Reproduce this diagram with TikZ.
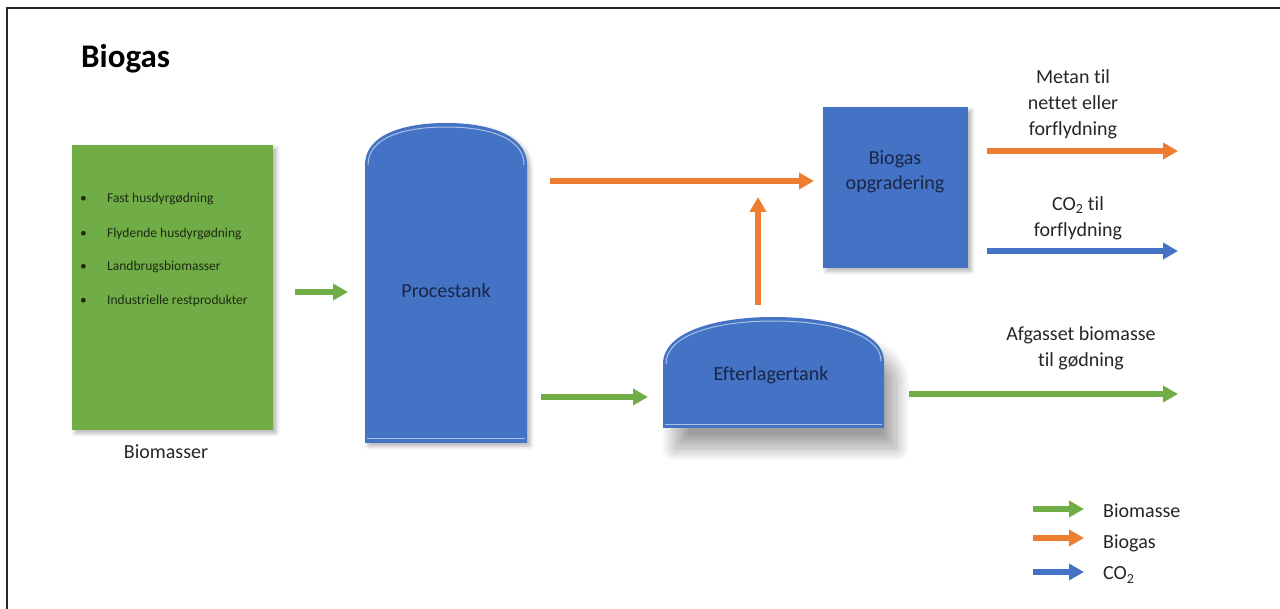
\documentclass[tikz,border=0pt]{standalone}
\usepackage{fontspec}
\setmainfont{Carlito}[Ligatures=NoCommon]
\usetikzlibrary{arrows.meta,shadows.blur}
\definecolor{cgreen}{HTML}{70AD47}
\definecolor{corange}{HTML}{ED7D31}
\definecolor{cblue}{HTML}{4472C4}
\definecolor{cnavy}{HTML}{1A2646}
\definecolor{cdark}{HTML}{1E2A12}
\definecolor{ctxt}{HTML}{262626}
\begin{document}
\begin{tikzpicture}[x=1pt,y=-1pt,
  flow/.style={line width=5.5pt,-{Triangle[length=15pt,width=16pt]}},
  gflow/.style={flow,draw=cgreen},
  oflow/.style={flow,draw=corange},
  bflow/.style={flow,draw=cblue},
  lbl/.style={text=ctxt,font=\fontsize{20}{26}\selectfont,align=center,inner sep=0pt},
  intxt/.style={text=cnavy,font=\fontsize{20}{25}\selectfont,align=center,inner sep=0pt},
  blt/.style={text=cdark,font=\fontsize{13.5}{16}\selectfont,anchor=west,inner sep=0pt},
  tankedge/.style={draw=cblue!45!white,line width=1pt},
  softshadow/.style={blur shadow={shadow xshift=3pt,shadow yshift=-3pt,shadow blur radius=4pt,shadow opacity=30}}
]
\useasboundingbox (0,0) rectangle (1280,609);
\draw[line width=2pt,draw=black!85] (7,609) -- (7,8) -- (1280,8);

\node[anchor=base west,inner sep=0pt,font=\fontsize{33}{36}\selectfont\bfseries] (title) at (81,68) {Biogas};

% Biomasser box
\node[fill=cgreen,minimum width=201pt,minimum height=285pt,anchor=north west,inner sep=0pt,softshadow] (bio) at (72,145) {};
\node[blt] (b1) at (80,199) {•};
\node[blt] (t1) at (107,199) {Fast husdyrgødning};
\node[blt] (b2) at (80,234) {•};
\node[blt] (t2) at (107,234) {Flydende husdyrgødning};
\node[blt] (b3) at (80,267) {•};
\node[blt] (t3) at (107,267) {Landbrugsbiomasser};
\node[blt] (b4) at (80,301) {•};
\node[blt] (t4) at (107,301) {Industrielle restprodukter};
\node[lbl] (biolbl) at (166,452) {Biomasser};

% Procestank
\fill[cblue,softshadow] (365,443) -- (365,165) .. controls (365,134) and (405,123) .. (446,123) .. controls (487,123) and (527,134) .. (527,165) -- (527,443) -- cycle;
\draw[tankedge] (368,165) .. controls (368,137) and (405,127) .. (446,127) .. controls (487,127) and (524,137) .. (524,165);
\draw[tankedge] (367,439) -- (525,439);
\node[intxt] (proc) at (446,291) {Procestank};

% Efterlagertank
\fill[cblue,blur shadow={shadow xshift=12pt,shadow yshift=-20pt,shadow blur radius=14pt,shadow blur steps=40,shadow opacity=38}] (663,428) -- (663,364) .. controls (663,331) and (718,317) .. (773,317) .. controls (830,317) and (884,331) .. (884,361) -- (884,428) -- cycle;
\draw[tankedge] (666,364) .. controls (666,334) and (718,321) .. (773,321) .. controls (830,321) and (881,334) .. (881,361);
\draw[tankedge] (665,425) -- (882,425);
\node[intxt] (eft) at (771,375) {Efterlagertank};

% Biogas opgradering
\node[fill=cblue,minimum width=145pt,minimum height=161pt,anchor=north west,inner sep=0pt,softshadow] (upg) at (823,107) {};
\node[intxt] (upglbl) at (895,172) {Biogas\\opgradering};

% connector end points
\coordinate (a1s) at (295,292); \coordinate (a1e) at (348,292);
\coordinate (a2s) at (541,397); \coordinate (a2e) at (648,397);
\coordinate (a3s) at (550,181); \coordinate (a3e) at (814,181);
\coordinate (a4s) at (758,305); \coordinate (a4e) at (758,197);
\coordinate (a5s) at (987,151); \coordinate (a5e) at (1178,151);
\coordinate (a6s) at (987,251); \coordinate (a6e) at (1178,251);
\coordinate (a7s) at (909,394); \coordinate (a7e) at (1178,394);

\draw[gflow] (a1s) -- (a1e);
\draw[gflow] (a2s) -- (a2e);
\draw[oflow] (a3s) -- (a3e);
\draw[oflow] (a4s) -- (a4e);
\draw[oflow] (a5s) -- (a5e);
\draw[bflow] (a6s) -- (a6e);
\draw[gflow] (a7s) -- (a7e);

\node[lbl] (metan) at (1073,104) {Metan til\\nettet eller\\forflydning};
\node[lbl] (co2) at (1078,218) {CO\textsubscript{2} til\\forflydning};
\node[lbl] (afg) at (1081,348) {Afgasset biomasse\\til gødning};

% legend
\coordinate (l1s) at (1033,509); \coordinate (l1e) at (1084,509);
\coordinate (l2s) at (1033,538); \coordinate (l2e) at (1084,538);
\coordinate (l3s) at (1033,572); \coordinate (l3e) at (1084,572);
\draw[gflow] (l1s) -- (l1e);
\draw[oflow] (l2s) -- (l2e);
\draw[bflow] (l3s) -- (l3e);
\node[lbl,anchor=west] (lg1) at (1103,511) {Biomasse};
\node[lbl,anchor=west] (lg2) at (1103,543) {Biogas};
\node[lbl,anchor=west] (lg3) at (1103,575) {CO\textsubscript{2}};
\end{tikzpicture}
\end{document}
